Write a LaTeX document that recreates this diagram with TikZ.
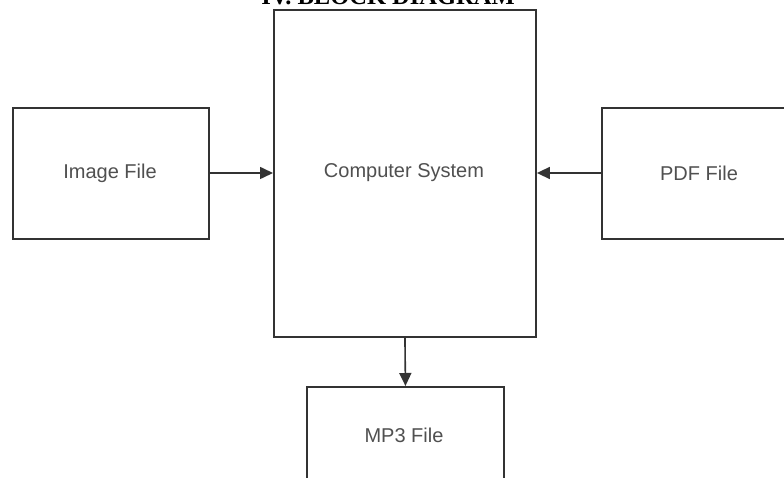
\documentclass[tikz,border=0pt]{standalone}
\usepackage{fontspec}
\setmainfont{Liberation Sans}
\newfontfamily\titlefont{Liberation Serif}
\usetikzlibrary{arrows.meta}
\definecolor{linec}{HTML}{333333}
\definecolor{textc}{HTML}{505050}
\tikzset{
  blockbox/.style={draw=linec, line width=1.9pt},
  blocklabel/.style={text=textc, font=\fontsize{20}{22}\selectfont, inner sep=0pt},
  flow/.style={draw=linec, line width=1.6pt, -{Triangle[length=13pt,width=12pt]}}
}
\begin{document}
\begin{tikzpicture}[x=1pt,y=-1pt]
\useasboundingbox (0,0) rectangle (784,478);
\clip (0,0) rectangle (784,478);
\fill[white] (0,0) rectangle (784,478);
% title (cut off at top)
\node[anchor=base, inner sep=0pt, font=\titlefont\bfseries\fontsize{24.5}{26}\selectfont] (title) at (388,4.5) {IV. BLOCK DIAGRAM};
% boxes
\node[blockbox, minimum width=262pt, minimum height=327pt, anchor=north west, inner sep=0pt] (cs) at (273,9) {};
\node[blockbox, minimum width=196pt, minimum height=131pt, anchor=north west, inner sep=0pt] (img) at (12,107) {};
\node[blockbox, minimum width=196pt, minimum height=131pt, anchor=north west, inner sep=0pt] (pdf) at (601,107) {};
\node[blockbox, minimum width=197pt, minimum height=131pt, anchor=north west, inner sep=0pt] (mp3) at (306,386) {};
% labels
\node[blocklabel] (cslabel) at (404,173) {Computer System};
\node[blocklabel] (imglabel) at (110,173) {Image File};
\node[blocklabel] (pdflabel) at (699,173) {PDF File};
\node[blocklabel] (mp3label) at (404,435) {MP3 File};
% connectors
\draw[flow] (img.east |- 0,173) -- (cs.west |- 0,173);
\draw[flow] (pdf.west |- 0,173) -- (cs.east |- 0,173);
\draw[flow] (cs.south) -- (mp3.north);
\end{tikzpicture}
\end{document}
